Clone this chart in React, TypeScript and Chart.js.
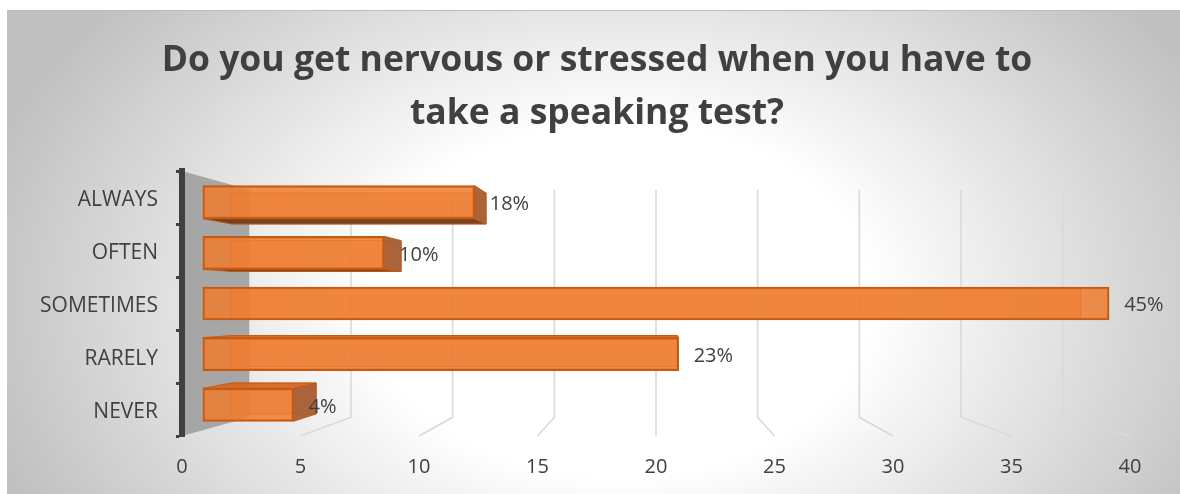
import React, { useEffect, useRef } from 'react';
import { Chart, registerables } from 'chart.js';

Chart.register(...registerables);

// ---- data ----
const CATEGORIES = ['ALWAYS', 'OFTEN', 'SOMETIMES', 'RARELY', 'NEVER'];
const VALUES = [12, 8, 40, 21, 4];
const PERCENT_LABELS = ['18%', '10%', '45%', '23%', '4%'];
const TITLE_LINES = ['Do you get nervous or stressed when you have to', 'take a speaking test?'];
const X_MIN = 0;
const X_MAX = 40;
const X_STEP = 5;

// ---- style ----
const FONT = "'Open Sans', 'Noto Sans', sans-serif";
const TEXT = '#404040';
const BAR_FILL = 'rgba(237,125,49,0.86)';
const BAR_BORDER = '#C55A11';

// ---- 3D perspective (style constants) ----
const FLOOR_DEPTH = 0.142; // shrink from front plane to back plane
const BAR_FRONT = 0.31; // depth of bar front face
const BAR_BACK = 0.73; // depth of bar back face
const DK = BAR_FRONT * FLOOR_DEPTH;
const X_MID = (X_MIN + X_MAX) / 2;
const Y_LO = -0.5;
const Y_HI = CATEGORIES.length - 0.5;
const Y_MID = (CATEGORIES.length - 1) / 2;
const toBarPlane = (v: number, mid: number) => (v - mid * DK) / (1 - DK);

const vp = (chart: any) => {
  const ca = chart.chartArea;
  return [(ca.left + ca.right) / 2, (ca.top + ca.bottom) / 2];
};

const backdropPlugin = {
  id: 'backdrop3d',
  beforeDraw(chart: any) {
    const { ctx, width, height, chartArea: ca } = chart;
    ctx.save();
    ctx.fillStyle = '#ffffff';
    ctx.fillRect(0, 0, width, height);
    ctx.beginPath();
    ctx.rect(7, 10, width - 7, height - 10);
    ctx.clip();
    ctx.translate(620, 300);
    ctx.scale(1, 0.7);
    const g = ctx.createRadialGradient(0, 0, 0, 0, 0, 660);
    g.addColorStop(0, '#ffffff');
    g.addColorStop(0.38, '#ffffff');
    g.addColorStop(1, '#c0c0c0');
    ctx.fillStyle = g;
    ctx.fillRect(-2000, -2000, 4000, 4000);
    ctx.restore();

    ctx.save();
    ctx.fillStyle = '#bdbdbd';
    ctx.fillRect(7, 10, width - 7, 1);
    ctx.restore();

    const xs = chart.scales.x;
    const [vx, vy] = vp(chart);
    const back = (x: number, y: number) => [x + FLOOR_DEPTH * (vx - x), y + FLOOR_DEPTH * (vy - y)];

    // gridlines: back wall vertical + floor diagonal
    ctx.save();
    ctx.strokeStyle = '#d9d9d9';
    ctx.lineWidth = 1.6;
    for (let v = X_MIN + X_STEP; v <= X_MAX; v += X_STEP) {
      const fx = xs.getPixelForValue(v);
      const [bx, bt] = back(fx, ca.top);
      const [, bb] = back(fx, ca.bottom);
      ctx.beginPath();
      ctx.moveTo(bx, bt);
      ctx.lineTo(bx, bb);
      ctx.lineTo(fx, ca.bottom);
      ctx.stroke();
    }
    ctx.restore();

    // side wall
    const l = ca.left;
    const [wx, wt] = back(l, ca.top);
    const [, wb] = back(l, ca.bottom);
    ctx.save();
    ctx.fillStyle = '#a6a6a6';
    ctx.beginPath();
    ctx.moveTo(l, ca.top);
    ctx.lineTo(wx, wt);
    ctx.lineTo(wx, wb);
    ctx.lineTo(l, ca.bottom);
    ctx.closePath();
    ctx.fill();
    ctx.restore();
  },
};

const barBoxPlugin = {
  id: 'barBox3d',
  beforeDatasetsDraw(chart: any) {
    const { ctx } = chart;
    const [vx, vy] = vp(chart);
    const T = ((BAR_BACK - BAR_FRONT) * FLOOR_DEPTH) / (1 - DK);
    const B = (x: number, y: number) => [x + T * (vx - x), y + T * (vy - y)];
    const meta = chart.getDatasetMeta(0);
    meta.data.forEach((bar: any) => {
      const { x, y, base, height } = bar.getProps(['x', 'y', 'base', 'height'], true);
      const x0 = Math.min(base, x);
      const x1 = Math.max(base, x);
      const y0 = y - height / 2;
      const y1 = y + height / 2;
      const b00 = B(x0, y0);
      const b10 = B(x1, y0);
      const b11 = B(x1, y1);
      const b01 = B(x0, y1);
      const quad = (pts: number[][], fill: string) => {
        ctx.beginPath();
        ctx.moveTo(pts[0][0], pts[0][1]);
        for (let i = 1; i < pts.length; i++) ctx.lineTo(pts[i][0], pts[i][1]);
        ctx.closePath();
        ctx.fillStyle = fill;
        ctx.fill();
        ctx.strokeStyle = 'rgba(197,90,17,0.9)';
        ctx.lineWidth = 1;
        ctx.stroke();
      };
      ctx.save();
      quad([b00, b10, b11, b01], 'rgba(237,125,49,0.55)');
      if (y0 > vy) quad([[x0, y0], [x1, y0], b10, b00], 'rgba(214,104,38,0.92)');
      if (y1 < vy) quad([[x0, y1], [x1, y1], b11, b01], 'rgba(105,58,28,0.9)');
      if (x1 < vx) quad([[x1, y0], [x1, y1], b11, b10], 'rgba(165,95,55,0.95)');
      ctx.restore();
    });
  },
  afterDatasetsDraw(chart: any) {
    const { ctx } = chart;
    const meta = chart.getDatasetMeta(0);
    ctx.save();
    ctx.font = `20px ${FONT}`;
    ctx.fillStyle = TEXT;
    ctx.textAlign = 'left';
    ctx.textBaseline = 'middle';
    meta.data.forEach((bar: any, i: number) => {
      const { x, y, base } = bar.getProps(['x', 'y', 'base'], true);
      ctx.fillText(PERCENT_LABELS[i], Math.max(x, base) + 15, y + 2);
    });
    ctx.restore();
  },
};

export default function App() {
  const ref = useRef<HTMLCanvasElement | null>(null);

  useEffect(() => {
    document.body.style.margin = '0';
    const canvas = ref.current;
    if (!canvas) return;
    const chart = new Chart(canvas, {
      type: 'bar',
      data: {
        labels: CATEGORIES,
        datasets: [
          {
            data: VALUES.map((v, i) => ({ x: v, y: i })),
            xAxisID: 'xb',
            yAxisID: 'yb',
            backgroundColor: BAR_FILL,
            borderColor: BAR_BORDER,
            borderWidth: 2,
            borderSkipped: false,
            barThickness: 33,
          } as any,
        ],
      },
      options: {
        indexAxis: 'y',
        animation: false,
        responsive: false,
        devicePixelRatio: 1,
        layout: { padding: { left: 14, right: 0, top: 0, bottom: 0 } },
        plugins: {
          legend: { display: false },
          tooltip: { enabled: false },
          title: {
            display: true,
            text: TITLE_LINES,
            color: TEXT,
            font: { family: FONT, size: 35.5, weight: 'bold', lineHeight: 53 / 35.5 },
            padding: { top: 34, bottom: 31 },
          },
        },
        scales: {
          x: {
            type: 'linear',
            position: 'bottom',
            min: X_MIN,
            max: X_MAX,
            grid: { display: false },
            border: { display: false },
            ticks: { stepSize: X_STEP, color: TEXT, font: { family: FONT, size: 20 }, padding: 11 },
            afterFit: (s: any) => {
              s.height = 58;
            },
          },
          y: {
            type: 'category',
            position: 'left',
            offset: true,
            grid: {
              display: true,
              drawOnChartArea: false,
              drawTicks: true,
              tickLength: 6,
              tickWidth: 3,
              tickColor: '#404040',
              offset: true,
            },
            border: { display: true, color: '#404040', width: 6 },
            ticks: { color: TEXT, font: { family: FONT, size: 21 }, padding: 18, labelOffset: 3 },
            afterFit: (s: any) => {
              s.width = 168;
            },
          },
          rpad: {
            type: 'linear',
            axis: 'y',
            position: 'right',
            display: true,
            grid: { display: false },
            border: { display: false },
            ticks: { display: false },
            afterFit: (s: any) => {
              s.width = 50;
            },
          },
          xb: {
            type: 'linear',
            axis: 'x',
            position: 'bottom',
            display: false,
            offset: false,
            min: toBarPlane(X_MIN, X_MID),
            max: toBarPlane(X_MAX, X_MID),
          },
          yb: {
            type: 'linear',
            axis: 'y',
            position: 'left',
            display: false,
            offset: false,
            reverse: true,
            min: toBarPlane(Y_LO, Y_MID),
            max: toBarPlane(Y_HI, Y_MID),
          },
        } as any,
      },
      plugins: [backdropPlugin, barBoxPlugin],
    });
    return () => chart.destroy();
  }, []);

  return (
    <div style={{ width: 1180, height: 494 }}>
      <canvas ref={ref} width={1180} height={494} style={{ display: 'block' }} />
    </div>
  );
}
